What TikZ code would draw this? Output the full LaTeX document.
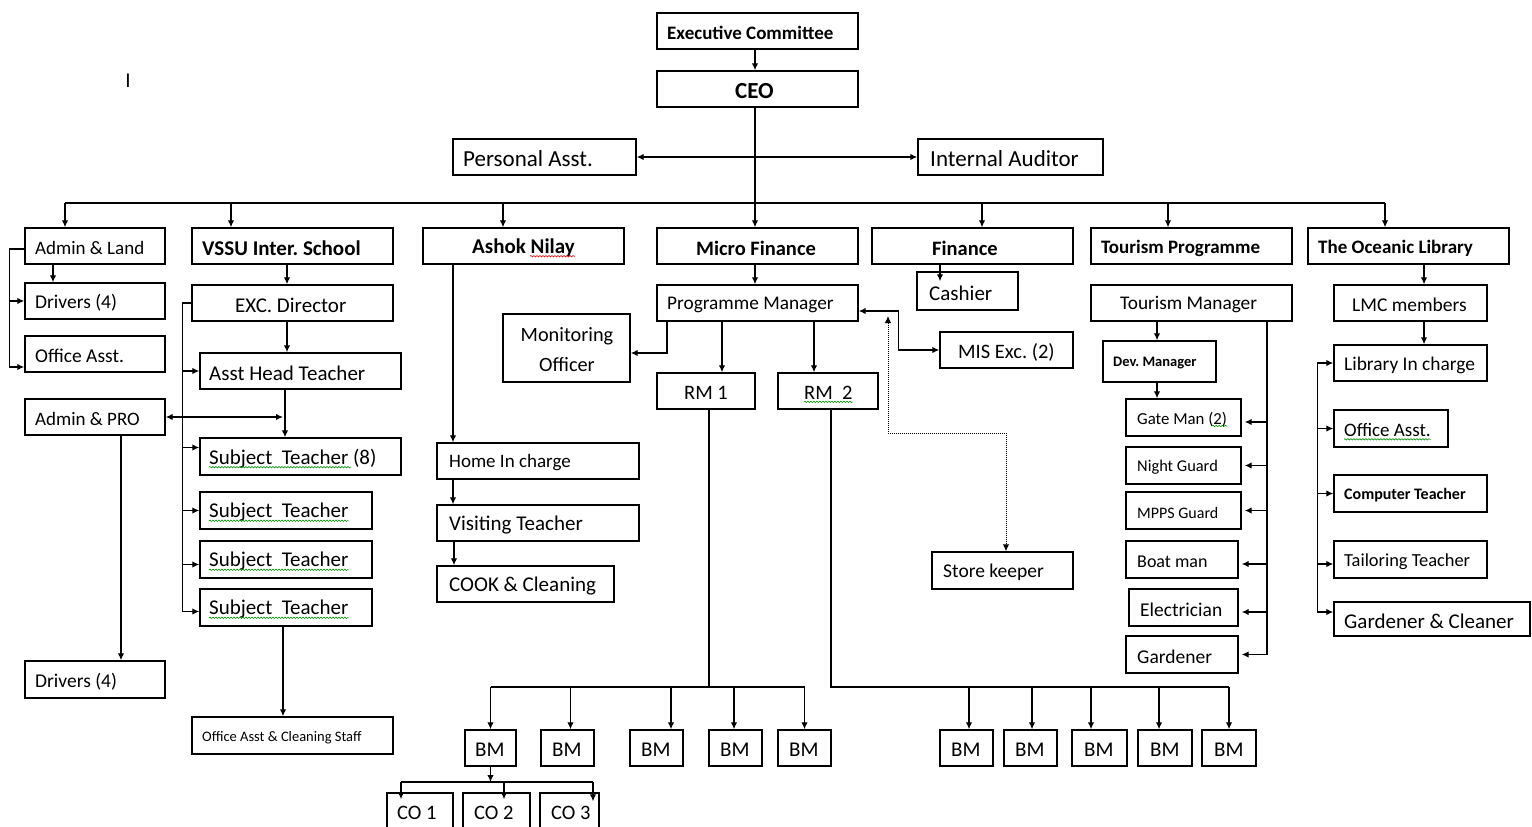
\documentclass[tikz,border=0pt]{standalone}
\usepackage{fontspec}
\setmainfont{Carlito}
\usetikzlibrary{arrows.meta,decorations.pathmorphing,calc}
\tikzset{
  bx/.style={draw, line width=1.4pt, inner sep=0pt},
  txt/.style={anchor=west, inner sep=0pt, text=black},
  ln/.style={line width=1.3pt},
  arr/.style={line width=1.3pt, -{Latex[length=7pt,width=6.5pt]}},
  arrr/.style={line width=1.3pt, {Latex[length=7pt,width=6.5pt]}-{Latex[length=7pt,width=6.5pt]}},
  dotarr/.style={line width=1pt, densely dotted, {Latex[length=7pt,width=6.5pt]}-{Latex[length=7pt,width=6.5pt]}},
  wavr/.style={draw=red!85!black, line width=0.6pt, decorate, decoration={snake, amplitude=0.7pt, segment length=3pt}},
  wavg/.style={draw=green!55!black, line width=0.6pt, decorate, decoration={snake, amplitude=0.7pt, segment length=3pt}}
}
\newcommand\mkbox[8]{%
  \node[bx, minimum width={(#4-#2)*1pt}, minimum height={(#5-#3)*1pt}] (#1) at ({(#2+#4)/2},{(#3+#5)/2}) {};
  \node[txt, font=\fontsize{#7}{#7}\selectfont] (#1t) at (#6,{(#3+#5)/2+2}) {#8};}
\begin{document}
\frenchspacing
\begin{tikzpicture}[x=1pt,y=-1pt]
\fill[white] (0,0) rectangle (1532,827);
\useasboundingbox (0,0) rectangle (1532,827);

\node[inner sep=0pt, font=\fontsize{21}{21}\selectfont] (cursor) at (128,81) {I};

% ---- top
\mkbox{exec}{657}{13}{858}{49}{667}{19}{\bfseries Executive Committee}
\mkbox{ceo}{657}{71}{858}{107}{735}{23}{\bfseries CEO}
\mkbox{pa}{453}{139}{636}{175}{463}{23}{Personal Asst.}
\mkbox{ia}{918}{139}{1103}{175}{930}{23}{Internal Auditor}
% ---- second row
\mkbox{al}{25}{228}{165}{264}{35}{19}{Admin \& Land}
\mkbox{vssu}{192}{228}{393}{264}{202}{21}{\bfseries VSSU Inter. School}
\mkbox{ashok}{423}{228}{624}{264}{472}{21}{\bfseries Ashok Nilay}
\mkbox{micro}{657}{228}{858}{264}{696}{20.5}{\bfseries Micro Finance}
\mkbox{fin}{872}{228}{1073}{264}{932}{20.5}{\bfseries Finance}
\mkbox{tour}{1091}{228}{1292}{264}{1101}{19}{\bfseries Tourism Programme}
\mkbox{lib}{1308}{228}{1509}{264}{1318}{19}{\bfseries The Oceanic Library}
% ---- admin
\mkbox{dr1}{25}{283}{165}{319}{35}{19.5}{Drivers (4)}
\mkbox{oa1}{25}{336}{165}{372}{35}{19.5}{Office Asst.}
\mkbox{apro}{25}{399}{165}{435}{35}{19}{Admin \& PRO}
\mkbox{dr2}{25}{661}{165}{698}{35}{19.5}{Drivers (4)}
% ---- school
\mkbox{exc}{192}{285}{393}{321}{235}{21}{EXC. Director}
\mkbox{aht}{200}{353}{401}{389}{209}{21}{Asst Head Teacher}
\mkbox{st1}{200}{438}{401}{475}{209}{21}{Subject~~Teacher (8)}
\mkbox{st2}{200}{492}{372}{529}{209}{21}{Subject~~Teacher}
\mkbox{st3}{200}{541}{372}{578}{209}{21}{Subject~~Teacher}
\mkbox{st4}{200}{589}{372}{626}{209}{21}{Subject~~Teacher}
\mkbox{oacs}{192}{717}{393}{754}{202}{14.5}{Office Asst \& Cleaning Staff}
% ---- ashok nilay
\mkbox{home}{437}{443}{639}{479}{449}{19}{Home In charge}
\mkbox{vt}{437}{505}{639}{541}{449}{21}{Visiting Teacher}
\mkbox{cook}{437}{566}{614}{602}{449}{21}{COOK \& Cleaning}
% ---- micro finance
\mkbox{pm}{657}{285}{858}{321}{667}{19.3}{Programme Manager}
\node[bx, minimum width=127pt, minimum height=68pt] (mon) at (566.5,348) {};
\node[inner sep=0pt, align=center, font=\fontsize{20.3}{30}\selectfont] (mont) at (567,350) {Monitoring\\Officer};
\mkbox{rm1}{657}{373}{755}{409}{684}{20.5}{RM 1}
\mkbox{rm2}{778}{373}{878}{409}{804}{20.5}{RM~~2}
\mkbox{mis}{940}{332}{1073}{368}{958}{20.5}{MIS Exc. (2)}
\mkbox{cash}{917}{272}{1018}{310}{929}{21}{Cashier}
\mkbox{sk}{932}{552}{1073}{589}{943}{19.5}{Store keeper}
% ---- tourism
\mkbox{tm}{1091}{285}{1292}{321}{1120}{19.3}{Tourism Manager}
\mkbox{dev}{1103}{341}{1216}{382}{1113}{14.5}{\bfseries Dev. Manager}
\mkbox{gate}{1126}{399}{1241}{436}{1137}{16.8}{Gate Man (2)}
\mkbox{ng}{1126}{447}{1241}{484}{1137}{16.4}{Night Guard}
\mkbox{mpps}{1126}{492}{1241}{529}{1137}{16}{MPPS Guard}
\mkbox{boat}{1126}{541}{1238}{578}{1137}{18}{Boat man}
\mkbox{elec}{1129}{589}{1238}{626}{1140}{19.5}{Electrician}
\mkbox{gard}{1126}{636}{1238}{673}{1137}{19.5}{Gardener}
% ---- library
\mkbox{lmc}{1334}{285}{1487}{321}{1352}{19.5}{LMC members}
\mkbox{lic}{1334}{345}{1487}{381}{1344}{19.4}{Library In charge}
\mkbox{oa2}{1334}{410}{1448}{447}{1344}{19}{Office Asst.}
\mkbox{ct}{1334}{475}{1487}{512}{1344}{16}{\bfseries Computer Teacher}
\mkbox{tt}{1334}{541}{1487}{578}{1344}{18.4}{Tailoring Teacher}
\mkbox{gc}{1334}{602}{1530}{636}{1344}{21}{Gardener \& Cleaner}
% ---- BM
\mkbox{bm1}{465}{730}{516}{766}{475}{21}{BM}
\mkbox{bm2}{541}{730}{594}{766}{552}{21}{BM}
\mkbox{bm3}{630}{730}{683}{766}{641}{21}{BM}
\mkbox{bm4}{709}{730}{762}{766}{720}{21}{BM}
\mkbox{bm5}{778}{730}{831}{766}{789}{21}{BM}
\mkbox{bm6}{940}{730}{993}{766}{951}{21}{BM}
\mkbox{bm7}{1004}{730}{1057}{766}{1015}{21}{BM}
\mkbox{bm8}{1072}{730}{1127}{766}{1084}{21}{BM}
\mkbox{bm9}{1138}{730}{1192}{766}{1150}{21}{BM}
\mkbox{bm10}{1202}{730}{1256}{766}{1214}{21}{BM}
\mkbox{co1}{387}{793}{453}{829}{397}{20.5}{CO 1}
\mkbox{co2}{463}{793}{530}{829}{474}{20.5}{CO 2}
\mkbox{co3}{540}{793}{599}{829}{551}{20.5}{CO 3}

% ================= connectors
\draw[arr] ([xshift=-2.5pt]exec.south) -- ([xshift=-2.5pt]ceo.north);
\coordinate (bus) at (755,203);
\coordinate (busL) at (65,203);
\coordinate (busR) at (1385,203);
\draw[ln] ([xshift=-2.5pt]ceo.south) -- (bus);
\draw[arrr] (pa.east) -- (ia.west);
\draw[ln] (busL) -- (busR);
\coordinate (dv) at ([xshift=-61.5pt]vssu.north);
\coordinate (da) at ([xshift=-20.5pt]ashok.north);
\coordinate (df) at ([xshift=9.5pt]fin.north);
\coordinate (dt) at ([xshift=-23.5pt]tour.north);
\foreach \c in {dv,da,df,dt} \draw[arr] (\c |- bus) -- (\c);
\draw[arr] (busL) -- (busL |- al.north);
\draw[arr] (busR) -- (busR |- lib.north);
\draw[arr] (bus) -- (bus |- micro.north);

% admin & land
\coordinate (p1) at ([xshift=-42pt]al.south);
\draw[arr] (p1) -- (p1 |- dr1.north);
\coordinate (p2s) at ([yshift=-3pt]al.west);
\coordinate (p2) at ([xshift=-15pt]p2s);
\coordinate (p2e) at ([yshift=-13pt]oa1.west);
\draw[ln] (p2s) -- (p2);
\draw[arr] (p2) |- (p2e);
\draw[arr] (p2 |- dr1.west) -- (dr1.west);

% admin & pro
\coordinate (p3) at ([xshift=-15.5pt]aht.south);
\draw[arr] (p3) -- (p3 |- st1.north);
\draw[arrr, shorten >=2pt] (apro.east) -- (p3 |- apro.east);
\coordinate (p5) at ([xshift=26pt]apro.south);
\draw[arr] (p5) -- (p5 |- dr2.north);

% school
\coordinate (p6) at ([xshift=-5.5pt]vssu.south);
\draw[arr] (p6) -- (p6 |- exc.north);
\coordinate (p7) at ([xshift=-5.5pt]exc.south);
\draw[arr] (p7) -- (p7 |- aht.north);
\coordinate (p8) at ([xshift=-9pt]exc.west);
\coordinate (s1) at ([yshift=9pt]st1.west);
\coordinate (s3) at ([yshift=-5pt]st3.west);
\coordinate (s4) at ([yshift=-4pt]st4.west);
\draw[ln] (exc.west) -- (p8);
\draw[arr] (p8) |- (s4);
\draw[arr] (p8 |- aht.west) -- (aht.west);
\draw[arr] (p8 |- s1) -- (s1);
\draw[arr] (p8 |- st2.west) -- (st2.west);
\draw[arr] (p8 |- s3) -- (s3);
\coordinate (p9) at ([xshift=-3pt]st4.south);
\draw[arr] (p9) -- (p9 |- oacs.north);

% ashok nilay
\coordinate (q1) at ([xshift=-70.5pt]ashok.south);
\draw[arr] (q1) -- (q1 |- home.north);
\draw[arr] (q1 |- home.south) -- (q1 |- vt.north);
\coordinate (q2) at ([xshift=1pt]q1);
\draw[arr] (q2 |- vt.south) -- (q2 |- cook.north);

% micro finance
\coordinate (m1) at ([xshift=-2.5pt]micro.south);
\draw[arr] (m1) -- (m1 |- pm.north);
\coordinate (m2) at ([xshift=-90.5pt]pm.south);
\coordinate (m2b) at ([yshift=-5pt]mon.east);
\draw[arr] (m2) |- (m2b);
\coordinate (m3) at ([xshift=-35.5pt]pm.south);
\draw[arr] (m3) -- (m3 |- rm1.north);
\coordinate (m4) at ([xshift=56.5pt]pm.south);
\draw[arr] (m4) -- (m4 |- rm2.north);
\coordinate (m5) at ([yshift=-8pt]pm.east);
\draw[arrr] (m5) -- ++(40,0) |- (mis.west);
\coordinate (dtop) at (888,316);
\coordinate (dmid) at (888,433);
\coordinate (skn) at ([xshift=3.5pt]sk.north);
\draw[dotarr] (dtop) -- (dmid) -| (skn);

% finance
\coordinate (f1) at ([xshift=-32.5pt]fin.south);
\coordinate (f2) at ([yshift=-10pt]cash.north);
\draw[arr] (f1) -- (f1 |- f2);

% tourism
\coordinate (t1) at ([xshift=-34.5pt]tm.south);
\draw[arr] (t1) -- (t1 |- dev.north);
\draw[arr] (t1 |- dev.south) -- (t1 |- gate.north);
\coordinate (t2) at ([xshift=75.5pt]tm.south);
\draw[arr, shorten >=3pt] (t2) |- (gard.east);
\coordinate (g1) at ([yshift=-4.5pt]gate.east);
\coordinate (b1) at ([yshift=-4.5pt]boat.east);
\coordinate (e1) at ([yshift=-4.5pt]elec.east);
\draw[arr, shorten >=3pt] (t2 |- g1) -- (g1);
\draw[arr, shorten >=3pt] (t2 |- ng.east) -- (ng.east);
\draw[arr, shorten >=3pt] (t2 |- mpps.east) -- (mpps.east);
\draw[arr, shorten >=3pt] (t2 |- b1) -- (b1);
\draw[arr, shorten >=3pt] (t2 |- e1) -- (e1);

% library
\coordinate (l1) at ([xshift=15.5pt]lib.south);
\draw[arr] (l1) -- (l1 |- lmc.north);
\draw[arr] (l1 |- lmc.south) -- (l1 |- lic.north);
\coordinate (l2e) at ([yshift=7pt]gc.west);
\coordinate (l2) at ([xshift=-16pt]l2e);
\coordinate (tt1) at ([yshift=-4.5pt]tt.west);
\draw[arr] (l2) |- (lic.west);
\draw[arr] (l2) -- (l2e);
\draw[arr] (l2 |- oa2.west) -- (oa2.west);
\draw[arr] (l2 |- ct.west) -- (ct.west);
\draw[arr] (l2 |- tt1) -- (tt1);

% BM buses
\coordinate (ybus) at (0,687);
\coordinate (r1) at ([xshift=3pt]rm1.south);
\draw[ln] (r1) -- (r1 |- ybus);
\coordinate (k1) at (bm1.north);
\coordinate (k2) at ([xshift=3pt]bm2.north);
\coordinate (k3) at ([xshift=14.5pt]bm3.north);
\coordinate (k4) at ([xshift=-1.5pt]bm4.north);
\coordinate (k5) at (bm5.north);
\draw[ln] (k1 |- ybus) -- (k5 |- ybus);
\foreach \k in {k1,k2,k3,k4,k5} \draw[arr] (\k |- ybus) -- (\k);
\coordinate (r2) at ([xshift=3pt]rm2.south);
\coordinate (k6) at ([xshift=2.5pt]bm6.north);
\coordinate (k7) at ([xshift=1.5pt]bm7.north);
\coordinate (k8) at ([xshift=-8.5pt]bm8.north);
\coordinate (k9) at ([xshift=-6pt]bm9.north);
\coordinate (k10) at (bm10.north);
\draw[ln] (r2) |- (k10 |- ybus);
\foreach \k in {k6,k7,k8,k9,k10} \draw[arr] (\k |- ybus) -- (\k);

% CO bus
\coordinate (ycob) at (0,782);
\draw[arr] (bm1.south) -- (bm1.south |- ycob);
\coordinate (c1) at ([xshift=-19pt,yshift=-7pt]co1.north);
\coordinate (c2) at ([xshift=7.5pt,yshift=-7pt]co2.north);
\coordinate (c3) at ([xshift=23.5pt,yshift=-9pt]co3.north);
\draw[ln] (c1 |- ycob) -- (c3 |- ycob);
\foreach \k in {c1,c2,c3} \draw[arr] (\k |- ycob) -- (\k);

% spell-check wavy underlines
\draw[wavr] ([xshift=58pt,yshift=1pt]ashokt.south west) -- ([yshift=1pt]ashokt.south east);
\draw[wavg] ([yshift=1pt]st1t.south west) -- ([xshift=142pt,yshift=1pt]st1t.south west);
\draw[wavg] ([yshift=1pt]st2t.south west) -- ([yshift=1pt]st2t.south east);
\draw[wavg] ([yshift=1pt]st3t.south west) -- ([yshift=1pt]st3t.south east);
\draw[wavg] ([yshift=1pt]st4t.south west) -- ([yshift=1pt]st4t.south east);
\draw[wavg] ([yshift=-2pt]rm2t.south west) -- ([yshift=-2pt]rm2t.south east);
\draw[wavg] ([xshift=-15pt,yshift=1pt]gatet.south east) -- ([yshift=1pt]gatet.south east);
\draw[wavg] ([yshift=-2pt]oa2t.south west) -- ([yshift=-2pt]oa2t.south east);
\end{tikzpicture}
\end{document}
